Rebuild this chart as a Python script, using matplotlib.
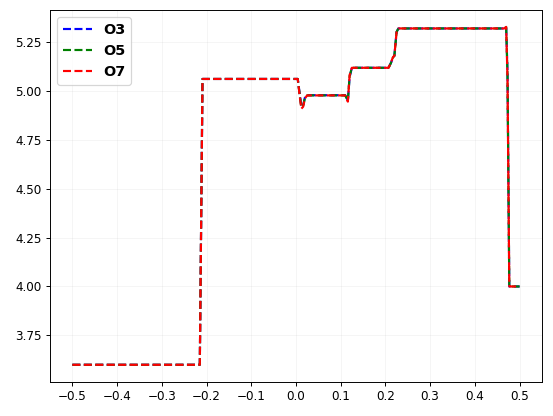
import matplotlib
matplotlib.use("Agg")
import matplotlib.pyplot as plt

# Profile points
x = [-0.5, -0.215, -0.209, 0.004, 0.008, 0.012, 0.016, 0.020, 0.025,
     0.110, 0.113, 0.116, 0.120, 0.125,
     0.207, 0.212, 0.217, 0.220, 0.225, 0.229,
     0.466, 0.470, 0.473, 0.477, 0.500]

o3 = [3.6, 3.6, 5.06, 5.06, 4.99, 4.92, 4.925, 4.965, 4.977,
      4.977, 4.965, 4.948, 5.07, 5.117,
      5.117, 5.14, 5.168, 5.178, 5.30, 5.318,
      5.318, 5.324, 5.10, 4.0, 4.0]

o5 = [3.6, 3.6, 5.06, 5.06, 4.985, 4.915, 4.922, 4.962, 4.976,
      4.976, 4.963, 4.946, 5.075, 5.117,
      5.117, 5.14, 5.17, 5.178, 5.30, 5.318,
      5.318, 5.325, 5.08, 4.0, 4.0]

o7 = [3.6, 3.6, 5.06, 5.06, 4.98, 4.908, 4.918, 4.96, 4.976,
      4.976, 4.962, 4.944, 5.08, 5.117,
      5.117, 5.142, 5.172, 5.178, 5.30, 5.318,
      5.318, 5.326, 5.06, 4.0, 4.0]

labels = ["O3", "O5", "O7"]
colors = ["blue", "green", "red"]

fig = plt.figure(figsize=(553 / 86.5, 416 / 86.5), dpi=86.5)
ax = fig.add_subplot(111)
fig.subplots_adjust(left=0.0904, right=0.980, bottom=0.0825, top=0.976)

for ys, lab, col in zip([o3, o5, o7], labels, colors):
    ax.plot(x, ys, linestyle="--", color=col, linewidth=1.8, label=lab)

ax.set_xticks([-0.5, -0.4, -0.3, -0.2, -0.1, 0.0, 0.1, 0.2, 0.3, 0.4, 0.5])
ax.set_yticks([3.75, 4.00, 4.25, 4.50, 4.75, 5.00, 5.25])
ax.tick_params(labelsize=10)
ax.grid(True, alpha=0.12)
ax.legend(loc="upper left", prop={"weight": "bold", "size": 12})

fig.savefig("out.png", dpi=86.5)
